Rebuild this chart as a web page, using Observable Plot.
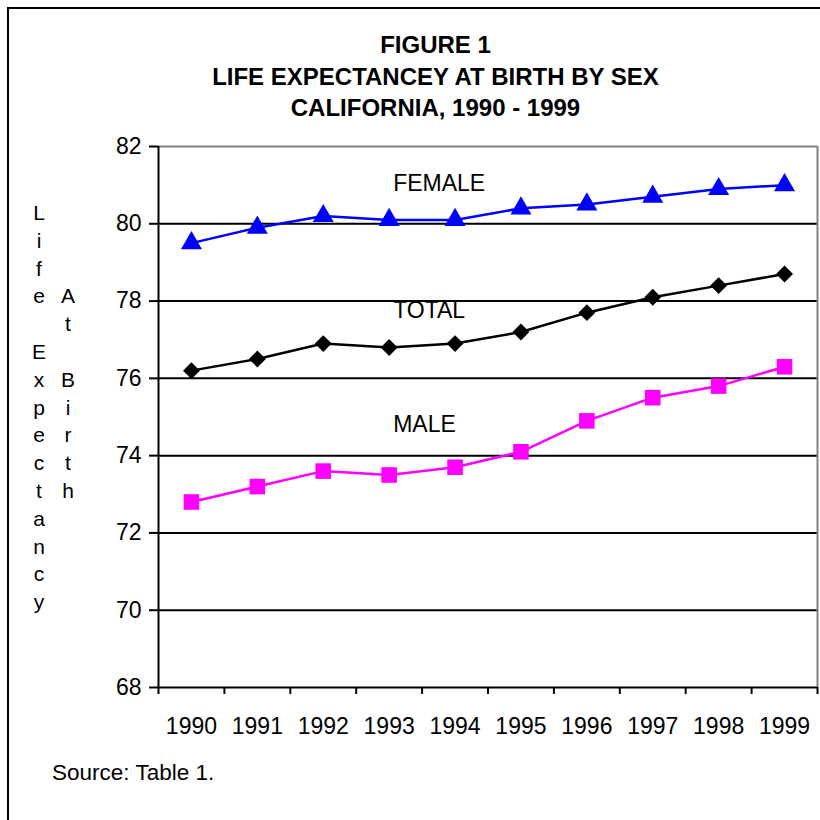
<!DOCTYPE html>
<html>
<head>
<meta charset="utf-8">
<script src="https://cdn.jsdelivr.net/npm/d3@7"></script>
<script src="https://cdn.jsdelivr.net/npm/@observablehq/plot@0.6"></script>
<style>
  html, body { margin: 0; padding: 0; background: #fff; overflow: hidden; }
  #wrap { position: relative; width: 820px; height: 820px; font-family: Arial, "Liberation Sans", sans-serif; color: #000; }
  #frame { position: absolute; left: 7px; top: 7px; width: 1000px; height: 1000px; border: 2px solid #000; box-sizing: border-box; }
  #title { position: absolute; left: 8px; width: 855px; top: 29px; text-align: center; font-weight: bold; font-size: 24px; line-height: 31.5px; }
  .vlab { position: absolute; width: 24px; text-align: center; font-size: 21px; line-height: 27.8px; white-space: pre; }
  #source { position: absolute; left: 52px; top: 759px; font-size: 22.5px; line-height: 28px; }
  #chart { position: absolute; left: 0; top: 0; }
</style>
</head>
<body>
<div id="wrap">
  <div id="frame"></div>
  <div id="chart"></div>
  <div id="title"></div>
  <div id="vl1" class="vlab"></div>
  <div id="vl2" class="vlab"></div>
  <div id="source"></div>
</div>
<script>
const titleLines = ["FIGURE 1", "LIFE EXPECTANCEY AT BIRTH BY SEX", "CALIFORNIA, 1990 - 1999"];
const yLabel1 = "Life Expectancy";
const yLabel2 = "   At Birth";
const sourceText = "Source: Table 1.";

const years = [1990, 1991, 1992, 1993, 1994, 1995, 1996, 1997, 1998, 1999];
const female = [79.5, 79.9, 80.2, 80.1, 80.1, 80.4, 80.5, 80.7, 80.9, 81.0];
const total  = [76.2, 76.5, 76.9, 76.8, 76.9, 77.2, 77.7, 78.1, 78.4, 78.7];
const male   = [72.8, 73.2, 73.6, 73.5, 73.7, 74.1, 74.9, 75.5, 75.8, 76.3];

const seriesNames = ["FEMALE", "TOTAL", "MALE"];
const seriesLabelY = [81.05, 77.75, 74.8];
const seriesLabelX = [1993, 1993, 1993];

const yTicks = [68, 70, 72, 74, 76, 78, 80, 82];
const gridTicks = [70, 72, 74, 76, 78, 80];
const xBounds = [1989.5, 1990.5, 1991.5, 1992.5, 1993.5, 1994.5, 1995.5, 1996.5, 1997.5, 1998.5, 1999.5];

const rows = (vals) => years.map((yr, i) => ({year: yr, value: vals[i]}));
const fRows = rows(female), tRows = rows(total), mRows = rows(male);
const labelRows = seriesNames.map((n, i) => ({name: n, x: seriesLabelX[i], y: seriesLabelY[i]}));

document.getElementById("title").innerHTML = titleLines.join("<br>");
document.getElementById("source").textContent = sourceText;
const vl1 = document.getElementById("vl1");
vl1.textContent = yLabel1.split("").join("\n");
vl1.style.left = "27px"; vl1.style.top = "199px";
const vl2 = document.getElementById("vl2");
vl2.textContent = yLabel2.split("").join("\n");
vl2.style.left = "56px"; vl2.style.top = "199px";

const chart = Plot.plot({
  width: 820,
  height: 760,
  marginLeft: 158,
  marginRight: 3,
  marginTop: 146,
  marginBottom: 73,
  style: {fontFamily: "Arial, 'Liberation Sans', sans-serif", fontSize: "23px", color: "#000", background: "transparent"},
  x: {domain: [1989.5, 1999.5]},
  y: {domain: [68, 82]},
  marks: [
    Plot.ruleY(gridTicks, {stroke: "#000", strokeWidth: 2}),
    Plot.ruleY([82], {stroke: "#808080", strokeWidth: 2}),
    Plot.ruleX([1999.5], {stroke: "#808080", strokeWidth: 2}),
    Plot.ruleY([68], {stroke: "#000", strokeWidth: 2}),
    Plot.ruleX([1989.5], {stroke: "#000", strokeWidth: 2}),
    Plot.ruleX(xBounds, {y1: 68, y2: 68, insetBottom: -7, stroke: "#000", strokeWidth: 2}),
    Plot.axisY({ticks: yTicks, tickSize: 9, tickPadding: 8, strokeWidth: 2, label: null, fontSize: 23}),
    Plot.axisX({ticks: years, tickSize: 0, tickPadding: 30, tickFormat: d => String(d), label: null, fontSize: 23}),
    Plot.line(fRows, {x: "year", y: "value", stroke: "#0000FF", strokeWidth: 2.5}),
    Plot.line(tRows, {x: "year", y: "value", stroke: "#000000", strokeWidth: 2.5}),
    Plot.line(mRows, {x: "year", y: "value", stroke: "#FF00FF", strokeWidth: 2.5}),
    Plot.dot(fRows, {x: "year", y: "value", symbol: "triangle", fill: "#0000FF", r: 7.8}),
    Plot.dot(tRows, {x: "year", y: "value", symbol: "diamond2", fill: "#000000", r: 7.6}),
    Plot.dot(mRows, {x: "year", y: "value", symbol: "square", fill: "#FF00FF", r: 8.8}),
    Plot.text(labelRows, {x: "x", y: "y", text: "name", textAnchor: "start", dx: 4, fontSize: 23, fill: "#000"})
  ]
});
document.getElementById("chart").appendChild(chart);
</script>
</body>
</html>
